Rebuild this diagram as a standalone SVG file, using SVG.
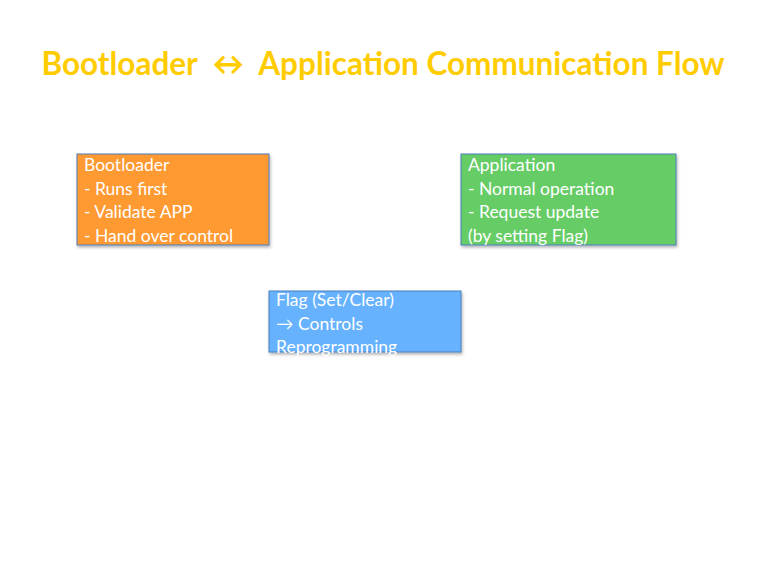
<svg xmlns="http://www.w3.org/2000/svg" width="768" height="576" viewBox="0 0 768 576">
<defs>
<filter id="sh" x="-10%" y="-10%" width="130%" height="140%">
<feDropShadow dx="1" dy="2" stdDeviation="1.5" flood-color="#000" flood-opacity="0.3"/>
</filter>
</defs>
<style>
.box{stroke:#4a7ebb;stroke-width:1;filter:url(#sh)}
.t{font-family:Lato,"Open Sans","Liberation Sans",sans-serif;font-size:17.5px;fill:#fff}
.title{font-family:Lato,"Open Sans","Liberation Sans",sans-serif;font-size:31.5px;font-weight:bold;fill:#FFCC00;white-space:pre}
</style>
<rect width="768" height="576" fill="#fff"/>
<text class="title" x="383" y="75" text-anchor="middle" xml:space="preserve">Bootloader  ↔  Application Communication Flow</text>
<g id="connectors"></g>
<g id="bootloader">
<rect class="box" x="77" y="154" width="192" height="91" fill="#FF9933"/>
<text class="t" x="84" y="171">Bootloader</text>
<text class="t" x="84" y="194.5">- Runs first</text>
<text class="t" x="84" y="218">- Validate APP</text>
<text class="t" x="84" y="241.5">- Hand over control</text>
</g>
<g id="application">
<rect class="box" x="461" y="154" width="215" height="91" fill="#66CC66"/>
<text class="t" x="468" y="171">Application</text>
<text class="t" x="468" y="194.5">- Normal operation</text>
<text class="t" x="468" y="218">- Request update</text>
<text class="t" x="468" y="241.5">(by setting Flag)</text>
</g>
<g id="flag">
<rect class="box" x="269" y="291" width="192" height="61" fill="#66B2FF"/>
<text class="t" x="276" y="306">Flag (Set/Clear)</text>
<text class="t" x="276" y="329.5">→ Controls</text>
<text class="t" x="276" y="353">Reprogramming</text>
</g>
</svg>
